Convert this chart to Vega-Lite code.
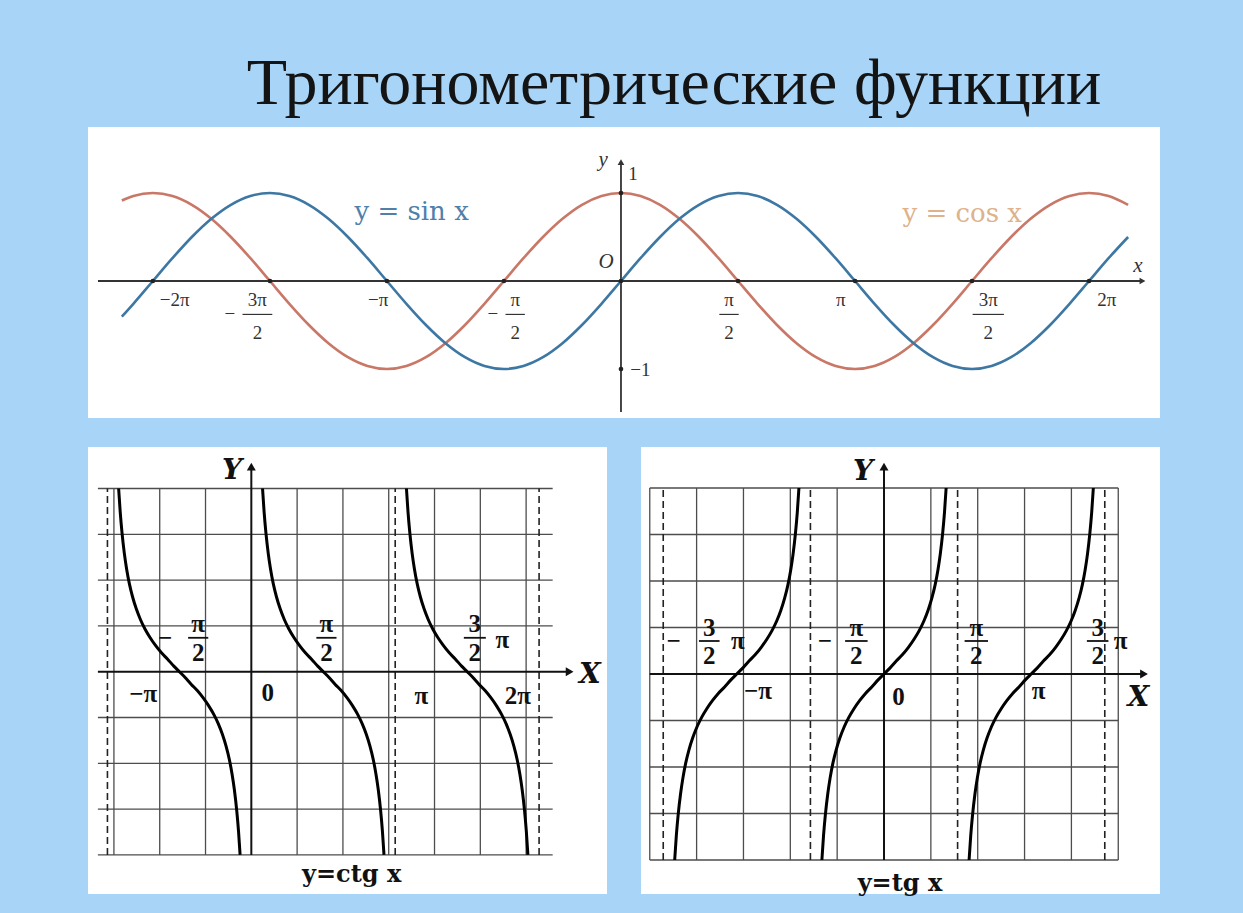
{
"$schema":"https://vega.github.io/schema/vega-lite/v6.json",
"background":"#a8d5f7",
"padding":{"left":88,"top":51,"right":83,"bottom":19},
"title":{"text":"Тригонометрические функции","font":"Liberation Serif","fontSize":66,"fontWeight":"normal","color":"#141414","anchor":"middle","dx":50,"offset":9},
"config":{"view":{"stroke":null,"fill":"white"}},
"spacing":29,
"bounds":"flush",
"datasets":{
"trig":[
{"x":-6.7,"s":-0.405,"c":0.914},{"x":-6.545,"s":-0.259,"c":0.966},{"x":-6.283,"s":0,"c":1},{"x":-6.021,"s":0.259,"c":0.966},{"x":-5.76,"s":0.5,"c":0.866},{"x":-5.498,"s":0.707,"c":0.707},{"x":-5.236,"s":0.866,"c":0.5},{"x":-4.974,"s":0.966,"c":0.259},{"x":-4.712,"s":1,"c":0},{"x":-4.451,"s":0.966,"c":-0.259},{"x":-4.189,"s":0.866,"c":-0.5},{"x":-3.927,"s":0.707,"c":-0.707},{"x":-3.665,"s":0.5,"c":-0.866},{"x":-3.403,"s":0.259,"c":-0.966},{"x":-3.142,"s":0,"c":-1},{"x":-2.88,"s":-0.259,"c":-0.966},{"x":-2.618,"s":-0.5,"c":-0.866},{"x":-2.356,"s":-0.707,"c":-0.707},{"x":-2.094,"s":-0.866,"c":-0.5},{"x":-1.833,"s":-0.966,"c":-0.259},{"x":-1.571,"s":-1,"c":0},{"x":-1.309,"s":-0.966,"c":0.259},{"x":-1.047,"s":-0.866,"c":0.5},{"x":-0.785,"s":-0.707,"c":0.707},{"x":-0.524,"s":-0.5,"c":0.866},{"x":-0.262,"s":-0.259,"c":0.966},{"x":0,"s":0,"c":1},{"x":0.262,"s":0.259,"c":0.966},{"x":0.524,"s":0.5,"c":0.866},{"x":0.785,"s":0.707,"c":0.707},{"x":1.047,"s":0.866,"c":0.5},{"x":1.309,"s":0.966,"c":0.259},{"x":1.571,"s":1,"c":0},{"x":1.833,"s":0.966,"c":-0.259},{"x":2.094,"s":0.866,"c":-0.5},{"x":2.356,"s":0.707,"c":-0.707},{"x":2.618,"s":0.5,"c":-0.866},{"x":2.88,"s":0.259,"c":-0.966},{"x":3.142,"s":0,"c":-1},{"x":3.403,"s":-0.259,"c":-0.966},{"x":3.665,"s":-0.5,"c":-0.866},{"x":3.927,"s":-0.707,"c":-0.707},{"x":4.189,"s":-0.866,"c":-0.5},{"x":4.451,"s":-0.966,"c":-0.259},{"x":4.712,"s":-1,"c":0},{"x":4.974,"s":-0.966,"c":0.259},{"x":5.236,"s":-0.866,"c":0.5},{"x":5.498,"s":-0.707,"c":0.707},{"x":5.76,"s":-0.5,"c":0.866},{"x":6.021,"s":-0.259,"c":0.966},{"x":6.283,"s":0,"c":1},{"x":6.545,"s":0.259,"c":0.966},{"x":6.807,"s":0.5,"c":0.866}
],
"topAxisH":[{"x":-7.02,"x2":7.0,"y":0}],
"topAxisV":[{"x":0,"y":-1.49,"y2":1.35}],
"topArrowR":[{"x":7.0,"y":0}],
"topArrowU":[{"x":0,"y":1.35}],
"topDots":[{"x":-6.283,"y":0},{"x":-4.712,"y":0},{"x":-3.142,"y":0},{"x":-1.571,"y":0},{"x":0,"y":0},{"x":1.571,"y":0},{"x":3.142,"y":0},{"x":4.712,"y":0},{"x":6.283,"y":0},{"x":0,"y":1},{"x":0,"y":-1}],
"topLabels":[
{"x":-5.99,"y":-0.22,"t":"−2π"},{"x":-5.25,"y":-0.38,"t":"−"},{"x":-4.88,"y":-0.22,"t":"3π"},{"x":-4.88,"y":-0.59,"t":"2"},
{"x":-3.26,"y":-0.22,"t":"−π"},{"x":-1.72,"y":-0.38,"t":"−"},{"x":-1.42,"y":-0.22,"t":"π"},{"x":-1.42,"y":-0.59,"t":"2"},
{"x":1.45,"y":-0.22,"t":"π"},{"x":1.45,"y":-0.59,"t":"2"},{"x":2.95,"y":-0.22,"t":"π"},
{"x":4.93,"y":-0.22,"t":"3π"},{"x":4.93,"y":-0.59,"t":"2"},{"x":6.52,"y":-0.22,"t":"2π"},
{"x":0.16,"y":1.22,"t":"1"},{"x":0.26,"y":-1.01,"t":"−1"}
],
"topBars":[{"x":-5.08,"x2":-4.68,"y":-0.38},{"x":-1.55,"x2":-1.29,"y":-0.38},{"x":1.32,"x2":1.58,"y":-0.38},{"x":4.72,"x2":5.14,"y":-0.38}],
"topItalic":[{"x":-0.2,"y":0.22,"t":"O"},{"x":-0.24,"y":1.38,"t":"y"},{"x":6.94,"y":0.17,"t":"x"}],
"sinLabel":[{"x":-2.81,"y":0.78,"t":"y = sin x"}],
"cosLabel":[{"x":4.58,"y":0.76,"t":"y = cos x"}],
"ctg":[
{"b":"a","x":-2.897,"y":4},{"b":"a","x":-2.862,"y":3.477},{"b":"a","x":-2.822,"y":3.018},{"b":"a","x":-2.772,"y":2.579},{"b":"a","x":-2.722,"y":2.239},{"b":"a","x":-2.662,"y":1.917},{"b":"a","x":-2.592,"y":1.631},{"b":"a","x":-2.512,"y":1.372},{"b":"a","x":-2.422,"y":1.14},{"b":"a","x":-2.322,"y":0.933},{"b":"a","x":-2.212,"y":0.747},{"b":"a","x":-2.092,"y":0.574},{"b":"a","x":-1.962,"y":0.412},{"b":"a","x":-1.832,"y":0.278},{"b":"a","x":-1.692,"y":0.121},{"b":"a","x":-1.571,"y":0},{"b":"a","x":-1.45,"y":-0.121},{"b":"a","x":-1.31,"y":-0.278},{"b":"a","x":-1.18,"y":-0.412},{"b":"a","x":-1.05,"y":-0.574},{"b":"a","x":-0.93,"y":-0.747},{"b":"a","x":-0.82,"y":-0.933},{"b":"a","x":-0.72,"y":-1.14},{"b":"a","x":-0.63,"y":-1.372},{"b":"a","x":-0.55,"y":-1.631},{"b":"a","x":-0.48,"y":-1.917},{"b":"a","x":-0.42,"y":-2.239},{"b":"a","x":-0.37,"y":-2.579},{"b":"a","x":-0.32,"y":-3.018},{"b":"a","x":-0.28,"y":-3.477},{"b":"a","x":-0.245,"y":-4},
{"b":"b","x":0.245,"y":4},{"b":"b","x":0.28,"y":3.477},{"b":"b","x":0.32,"y":3.018},{"b":"b","x":0.37,"y":2.579},{"b":"b","x":0.42,"y":2.239},{"b":"b","x":0.48,"y":1.917},{"b":"b","x":0.55,"y":1.631},{"b":"b","x":0.63,"y":1.372},{"b":"b","x":0.72,"y":1.14},{"b":"b","x":0.82,"y":0.933},{"b":"b","x":0.93,"y":0.747},{"b":"b","x":1.05,"y":0.574},{"b":"b","x":1.18,"y":0.412},{"b":"b","x":1.31,"y":0.278},{"b":"b","x":1.45,"y":0.121},{"b":"b","x":1.571,"y":0},{"b":"b","x":1.692,"y":-0.121},{"b":"b","x":1.832,"y":-0.278},{"b":"b","x":1.962,"y":-0.412},{"b":"b","x":2.092,"y":-0.574},{"b":"b","x":2.212,"y":-0.747},{"b":"b","x":2.322,"y":-0.933},{"b":"b","x":2.422,"y":-1.14},{"b":"b","x":2.512,"y":-1.372},{"b":"b","x":2.592,"y":-1.631},{"b":"b","x":2.662,"y":-1.917},{"b":"b","x":2.722,"y":-2.239},{"b":"b","x":2.772,"y":-2.579},{"b":"b","x":2.822,"y":-3.018},{"b":"b","x":2.862,"y":-3.477},{"b":"b","x":2.897,"y":-4},
{"b":"c","x":3.387,"y":4},{"b":"c","x":3.422,"y":3.477},{"b":"c","x":3.462,"y":3.018},{"b":"c","x":3.512,"y":2.579},{"b":"c","x":3.562,"y":2.239},{"b":"c","x":3.622,"y":1.917},{"b":"c","x":3.692,"y":1.631},{"b":"c","x":3.772,"y":1.372},{"b":"c","x":3.862,"y":1.14},{"b":"c","x":3.962,"y":0.933},{"b":"c","x":4.072,"y":0.747},{"b":"c","x":4.192,"y":0.574},{"b":"c","x":4.322,"y":0.412},{"b":"c","x":4.452,"y":0.278},{"b":"c","x":4.592,"y":0.121},{"b":"c","x":4.713,"y":0},{"b":"c","x":4.834,"y":-0.121},{"b":"c","x":4.974,"y":-0.278},{"b":"c","x":5.104,"y":-0.412},{"b":"c","x":5.234,"y":-0.574},{"b":"c","x":5.354,"y":-0.747},{"b":"c","x":5.464,"y":-0.933},{"b":"c","x":5.564,"y":-1.14},{"b":"c","x":5.654,"y":-1.372},{"b":"c","x":5.734,"y":-1.631},{"b":"c","x":5.804,"y":-1.917},{"b":"c","x":5.864,"y":-2.239},{"b":"c","x":5.914,"y":-2.579},{"b":"c","x":5.964,"y":-3.018},{"b":"c","x":6.004,"y":-3.477},{"b":"c","x":6.039,"y":-4}
],
"ctgGridV":[{"x":-3,"y":-4,"y2":4},{"x":-2,"y":-4,"y2":4},{"x":-1,"y":-4,"y2":4},{"x":1,"y":-4,"y2":4},{"x":2,"y":-4,"y2":4},{"x":3,"y":-4,"y2":4},{"x":4,"y":-4,"y2":4},{"x":5,"y":-4,"y2":4},{"x":6,"y":-4,"y2":4}],
"ctgGridH":[{"x":-3.35,"x2":6.58,"y":-4},{"x":-3.35,"x2":6.58,"y":-3},{"x":-3.35,"x2":6.58,"y":-2},{"x":-3.35,"x2":6.58,"y":-1},{"x":-3.35,"x2":6.58,"y":1},{"x":-3.35,"x2":6.58,"y":2},{"x":-3.35,"x2":6.58,"y":3},{"x":-3.35,"x2":6.58,"y":4}],
"ctgAsym":[{"x":-3.1416,"y":-4,"y2":4},{"x":3.1416,"y":-4,"y2":4},{"x":6.2832,"y":-4,"y2":4}],
"ctgAxisH":[{"x":-3.35,"x2":6.95,"y":0}],
"ctgAxisV":[{"x":0,"y":-4,"y2":4.48}],
"ctgArrowR":[{"x":6.95,"y":0}],
"ctgArrowU":[{"x":0,"y":4.48}],
"ctgBars":[{"x":-1.38,"x2":-0.94,"y":0.74},{"x":1.42,"x2":1.86,"y":0.74},{"x":4.64,"x2":5.12,"y":0.74}],
"ctgLabels":[
{"x":-1.88,"y":0.74,"t":"−"},{"x":-1.16,"y":1.04,"t":"π"},{"x":-1.16,"y":0.40,"t":"2"},{"x":-2.36,"y":-0.49,"t":"−π"},{"x":0.36,"y":-0.47,"t":"0"},
{"x":1.64,"y":1.04,"t":"π"},{"x":1.64,"y":0.40,"t":"2"},{"x":3.71,"y":-0.52,"t":"π"},{"x":4.88,"y":1.04,"t":"3"},{"x":4.88,"y":0.40,"t":"2"},{"x":5.48,"y":0.69,"t":"π"},{"x":5.82,"y":-0.52,"t":"2π"}
],
"ctgXY":[{"x":7.39,"y":-0.07,"t":"X"},{"x":-0.42,"y":4.38,"t":"Y"}],
"ctgCap":[{"x":2.19,"y":-4.44,"t":"y=ctg x"}],
"tg":[
{"b":"a","x":-4.468,"y":-4},{"b":"a","x":-4.433,"y":-3.477},{"b":"a","x":-4.393,"y":-3.018},{"b":"a","x":-4.343,"y":-2.579},{"b":"a","x":-4.293,"y":-2.239},{"b":"a","x":-4.233,"y":-1.917},{"b":"a","x":-4.163,"y":-1.631},{"b":"a","x":-4.083,"y":-1.372},{"b":"a","x":-3.993,"y":-1.14},{"b":"a","x":-3.893,"y":-0.933},{"b":"a","x":-3.783,"y":-0.747},{"b":"a","x":-3.663,"y":-0.574},{"b":"a","x":-3.533,"y":-0.412},{"b":"a","x":-3.403,"y":-0.278},{"b":"a","x":-3.263,"y":-0.121},{"b":"a","x":-3.142,"y":0},{"b":"a","x":-3.021,"y":0.121},{"b":"a","x":-2.881,"y":0.278},{"b":"a","x":-2.751,"y":0.412},{"b":"a","x":-2.621,"y":0.574},{"b":"a","x":-2.501,"y":0.747},{"b":"a","x":-2.391,"y":0.933},{"b":"a","x":-2.291,"y":1.14},{"b":"a","x":-2.201,"y":1.372},{"b":"a","x":-2.121,"y":1.631},{"b":"a","x":-2.051,"y":1.917},{"b":"a","x":-1.991,"y":2.239},{"b":"a","x":-1.941,"y":2.579},{"b":"a","x":-1.891,"y":3.018},{"b":"a","x":-1.851,"y":3.477},{"b":"a","x":-1.816,"y":4},
{"b":"b","x":-1.326,"y":-4},{"b":"b","x":-1.291,"y":-3.477},{"b":"b","x":-1.251,"y":-3.018},{"b":"b","x":-1.201,"y":-2.579},{"b":"b","x":-1.151,"y":-2.239},{"b":"b","x":-1.091,"y":-1.917},{"b":"b","x":-1.021,"y":-1.631},{"b":"b","x":-0.941,"y":-1.372},{"b":"b","x":-0.851,"y":-1.14},{"b":"b","x":-0.751,"y":-0.933},{"b":"b","x":-0.641,"y":-0.747},{"b":"b","x":-0.521,"y":-0.574},{"b":"b","x":-0.391,"y":-0.412},{"b":"b","x":-0.261,"y":-0.278},{"b":"b","x":-0.121,"y":-0.121},{"b":"b","x":0,"y":0},{"b":"b","x":0.121,"y":0.121},{"b":"b","x":0.261,"y":0.278},{"b":"b","x":0.391,"y":0.412},{"b":"b","x":0.521,"y":0.574},{"b":"b","x":0.641,"y":0.747},{"b":"b","x":0.751,"y":0.933},{"b":"b","x":0.851,"y":1.14},{"b":"b","x":0.941,"y":1.372},{"b":"b","x":1.021,"y":1.631},{"b":"b","x":1.091,"y":1.917},{"b":"b","x":1.151,"y":2.239},{"b":"b","x":1.201,"y":2.579},{"b":"b","x":1.251,"y":3.018},{"b":"b","x":1.291,"y":3.477},{"b":"b","x":1.326,"y":4},
{"b":"c","x":1.816,"y":-4},{"b":"c","x":1.851,"y":-3.477},{"b":"c","x":1.891,"y":-3.018},{"b":"c","x":1.941,"y":-2.579},{"b":"c","x":1.991,"y":-2.239},{"b":"c","x":2.051,"y":-1.917},{"b":"c","x":2.121,"y":-1.631},{"b":"c","x":2.201,"y":-1.372},{"b":"c","x":2.291,"y":-1.14},{"b":"c","x":2.391,"y":-0.933},{"b":"c","x":2.501,"y":-0.747},{"b":"c","x":2.621,"y":-0.574},{"b":"c","x":2.751,"y":-0.412},{"b":"c","x":2.881,"y":-0.278},{"b":"c","x":3.021,"y":-0.121},{"b":"c","x":3.142,"y":0},{"b":"c","x":3.263,"y":0.121},{"b":"c","x":3.403,"y":0.278},{"b":"c","x":3.533,"y":0.412},{"b":"c","x":3.663,"y":0.574},{"b":"c","x":3.783,"y":0.747},{"b":"c","x":3.893,"y":0.933},{"b":"c","x":3.993,"y":1.14},{"b":"c","x":4.083,"y":1.372},{"b":"c","x":4.163,"y":1.631},{"b":"c","x":4.233,"y":1.917},{"b":"c","x":4.293,"y":2.239},{"b":"c","x":4.343,"y":2.579},{"b":"c","x":4.393,"y":3.018},{"b":"c","x":4.433,"y":3.477},{"b":"c","x":4.468,"y":4}
],
"tgGridV":[{"x":-5,"y":-4,"y2":4},{"x":-4,"y":-4,"y2":4},{"x":-3,"y":-4,"y2":4},{"x":-2,"y":-4,"y2":4},{"x":-1,"y":-4,"y2":4},{"x":1,"y":-4,"y2":4},{"x":2,"y":-4,"y2":4},{"x":3,"y":-4,"y2":4},{"x":4,"y":-4,"y2":4},{"x":5,"y":-4,"y2":4}],
"tgGridH":[{"x":-5,"x2":5,"y":-4},{"x":-5,"x2":5,"y":-3},{"x":-5,"x2":5,"y":-2},{"x":-5,"x2":5,"y":-1},{"x":-5,"x2":5,"y":1},{"x":-5,"x2":5,"y":2},{"x":-5,"x2":5,"y":3},{"x":-5,"x2":5,"y":4}],
"tgAsym":[{"x":-4.7124,"y":-4,"y2":4},{"x":-1.5708,"y":-4,"y2":4},{"x":1.5708,"y":-4,"y2":4},{"x":4.7124,"y":-4,"y2":4}],
"tgAxisH":[{"x":-5,"x2":5.55,"y":0}],
"tgAxisV":[{"x":0,"y":-4,"y2":4.46}],
"tgArrowR":[{"x":5.55,"y":0}],
"tgArrowU":[{"x":0,"y":4.46}],
"tgBars":[{"x":-3.95,"x2":-3.51,"y":0.71},{"x":-0.83,"x2":-0.35,"y":0.71},{"x":1.72,"x2":2.22,"y":0.71},{"x":4.33,"x2":4.79,"y":0.71}],
"tgLabels":[
{"x":-4.49,"y":0.71,"t":"−"},{"x":-3.73,"y":0.99,"t":"3"},{"x":-3.73,"y":0.38,"t":"2"},{"x":-3.12,"y":0.70,"t":"π"},{"x":-2.69,"y":-0.37,"t":"−π"},
{"x":-1.26,"y":0.71,"t":"−"},{"x":-0.59,"y":0.99,"t":"π"},{"x":-0.59,"y":0.38,"t":"2"},{"x":0.31,"y":-0.49,"t":"0"},
{"x":1.97,"y":0.99,"t":"π"},{"x":1.97,"y":0.38,"t":"2"},{"x":3.30,"y":-0.37,"t":"π"},
{"x":4.56,"y":0.99,"t":"3"},{"x":4.56,"y":0.38,"t":"2"},{"x":5.05,"y":0.70,"t":"π"}
],
"tgXY":[{"x":5.43,"y":-0.52,"t":"X"},{"x":-0.45,"y":4.34,"t":"Y"}],
"tgCap":[{"x":0.34,"y":-4.52,"t":"y=tg x"}]
},
"vconcat":[
{
"width":1072,"height":291,
"encoding":{
"x":{"field":"x","type":"quantitative","scale":{"domain":[-7.154,7.235],"nice":false,"zero":false},"axis":null},
"y":{"field":"y","type":"quantitative","scale":{"domain":[-1.557,1.75],"nice":false,"zero":false},"axis":null}
},
"layer":[
{"data":{"name":"topAxisH"},"mark":{"type":"rule","color":"#333","strokeWidth":1.8},"encoding":{"x2":{"field":"x2"}}},
{"data":{"name":"topAxisV"},"mark":{"type":"rule","color":"#333","strokeWidth":1.8},"encoding":{"y2":{"field":"y2"}}},
{"data":{"name":"topArrowR"},"mark":{"type":"point","shape":"triangle-right","filled":true,"color":"#333","opacity":1,"size":45}},
{"data":{"name":"topArrowU"},"mark":{"type":"point","shape":"triangle-up","filled":true,"color":"#333","opacity":1,"size":45}},
{"data":{"name":"trig"},"mark":{"type":"line","color":"#c97767","strokeWidth":2.6,"interpolate":"monotone"},"encoding":{"y":{"field":"c","type":"quantitative","scale":{"domain":[-1.557,1.75],"nice":false,"zero":false},"axis":null}}},
{"data":{"name":"trig"},"mark":{"type":"line","color":"#3d77a3","strokeWidth":2.6,"interpolate":"monotone"},"encoding":{"y":{"field":"s","type":"quantitative","scale":{"domain":[-1.557,1.75],"nice":false,"zero":false},"axis":null}}},
{"data":{"name":"topDots"},"mark":{"type":"circle","color":"#222","opacity":1,"size":22}},
{"data":{"name":"topBars"},"mark":{"type":"rule","color":"#333","strokeWidth":1.2},"encoding":{"x2":{"field":"x2"}}},
{"data":{"name":"topLabels"},"mark":{"type":"text","font":"Liberation Serif","fontSize":19,"color":"#333","align":"center","baseline":"middle"},"encoding":{"text":{"field":"t","type":"nominal"}}},
{"data":{"name":"topItalic"},"mark":{"type":"text","font":"Liberation Serif","fontSize":21,"fontStyle":"italic","color":"#333","align":"center","baseline":"middle"},"encoding":{"text":{"field":"t","type":"nominal"}}},
{"data":{"name":"sinLabel"},"mark":{"type":"text","font":"DejaVu Serif","fontSize":26,"color":"#4f80aa","align":"center","baseline":"middle"},"encoding":{"text":{"field":"t","type":"nominal"}}},
{"data":{"name":"cosLabel"},"mark":{"type":"text","font":"DejaVu Serif","fontSize":26,"color":"#deb28a","align":"center","baseline":"middle"},"encoding":{"text":{"field":"t","type":"nominal"}}}
]
},
{
"hconcat":[
{
"width":519,"height":447,
"encoding":{
"x":{"field":"x","type":"quantitative","scale":{"domain":[-3.566,7.766],"nice":false,"zero":false},"axis":null},
"y":{"field":"y","type":"quantitative","scale":{"domain":[-4.854,4.906],"nice":false,"zero":false},"axis":null}
},
"layer":[
{"data":{"name":"ctgGridV"},"mark":{"type":"rule","color":"#4d4d4d","strokeWidth":1.3},"encoding":{"y2":{"field":"y2"}}},
{"data":{"name":"ctgGridH"},"mark":{"type":"rule","color":"#4d4d4d","strokeWidth":1.3},"encoding":{"x2":{"field":"x2"}}},
{"data":{"name":"ctgAsym"},"mark":{"type":"rule","color":"#222","strokeWidth":1.6,"strokeDash":[7,4]},"encoding":{"y2":{"field":"y2"}}},
{"data":{"name":"ctgAxisH"},"mark":{"type":"rule","color":"#111","strokeWidth":2},"encoding":{"x2":{"field":"x2"}}},
{"data":{"name":"ctgAxisV"},"mark":{"type":"rule","color":"#111","strokeWidth":2},"encoding":{"y2":{"field":"y2"}}},
{"data":{"name":"ctgArrowR"},"mark":{"type":"point","shape":"triangle-right","filled":true,"color":"#111","opacity":1,"size":80}},
{"data":{"name":"ctgArrowU"},"mark":{"type":"point","shape":"triangle-up","filled":true,"color":"#111","opacity":1,"size":80}},
{"data":{"name":"ctg"},"mark":{"type":"line","color":"#000","strokeWidth":3,"interpolate":"monotone"},"encoding":{"detail":{"field":"b","type":"nominal"}}},
{"data":{"name":"ctgBars"},"mark":{"type":"rule","color":"#111","strokeWidth":1.8},"encoding":{"x2":{"field":"x2"}}},
{"data":{"name":"ctgLabels"},"mark":{"type":"text","font":"Liberation Serif","fontSize":25,"fontWeight":"bold","color":"#111","align":"center","baseline":"middle"},"encoding":{"text":{"field":"t","type":"nominal"}}},
{"data":{"name":"ctgXY"},"mark":{"type":"text","font":"DejaVu Serif","fontSize":28,"fontWeight":"bold","fontStyle":"italic","color":"#111","align":"center","baseline":"middle"},"encoding":{"text":{"field":"t","type":"nominal"}}},
{"data":{"name":"ctgCap"},"mark":{"type":"text","font":"DejaVu Serif","fontSize":24,"fontWeight":"bold","color":"#111","align":"center","baseline":"middle"},"encoding":{"text":{"field":"t","type":"nominal"}}}
]
},
{
"width":519,"height":447,
"encoding":{
"x":{"field":"x","type":"quantitative","scale":{"domain":[-5.187,5.891],"nice":false,"zero":false},"axis":null},
"y":{"field":"y","type":"quantitative","scale":{"domain":[-4.731,4.882],"nice":false,"zero":false},"axis":null}
},
"layer":[
{"data":{"name":"tgGridV"},"mark":{"type":"rule","color":"#4d4d4d","strokeWidth":1.3},"encoding":{"y2":{"field":"y2"}}},
{"data":{"name":"tgGridH"},"mark":{"type":"rule","color":"#4d4d4d","strokeWidth":1.3},"encoding":{"x2":{"field":"x2"}}},
{"data":{"name":"tgAsym"},"mark":{"type":"rule","color":"#222","strokeWidth":1.6,"strokeDash":[7,4]},"encoding":{"y2":{"field":"y2"}}},
{"data":{"name":"tgAxisH"},"mark":{"type":"rule","color":"#111","strokeWidth":2},"encoding":{"x2":{"field":"x2"}}},
{"data":{"name":"tgAxisV"},"mark":{"type":"rule","color":"#111","strokeWidth":2},"encoding":{"y2":{"field":"y2"}}},
{"data":{"name":"tgArrowR"},"mark":{"type":"point","shape":"triangle-right","filled":true,"color":"#111","opacity":1,"size":80}},
{"data":{"name":"tgArrowU"},"mark":{"type":"point","shape":"triangle-up","filled":true,"color":"#111","opacity":1,"size":80}},
{"data":{"name":"tg"},"mark":{"type":"line","color":"#000","strokeWidth":3,"interpolate":"monotone"},"encoding":{"detail":{"field":"b","type":"nominal"}}},
{"data":{"name":"tgBars"},"mark":{"type":"rule","color":"#111","strokeWidth":1.8},"encoding":{"x2":{"field":"x2"}}},
{"data":{"name":"tgLabels"},"mark":{"type":"text","font":"Liberation Serif","fontSize":25,"fontWeight":"bold","color":"#111","align":"center","baseline":"middle"},"encoding":{"text":{"field":"t","type":"nominal"}}},
{"data":{"name":"tgXY"},"mark":{"type":"text","font":"DejaVu Serif","fontSize":28,"fontWeight":"bold","fontStyle":"italic","color":"#111","align":"center","baseline":"middle"},"encoding":{"text":{"field":"t","type":"nominal"}}},
{"data":{"name":"tgCap"},"mark":{"type":"text","font":"DejaVu Serif","fontSize":24,"fontWeight":"bold","color":"#111","align":"center","baseline":"middle"},"encoding":{"text":{"field":"t","type":"nominal"}}}
]
}
],
"spacing":34,
"bounds":"flush"
}
]
}
